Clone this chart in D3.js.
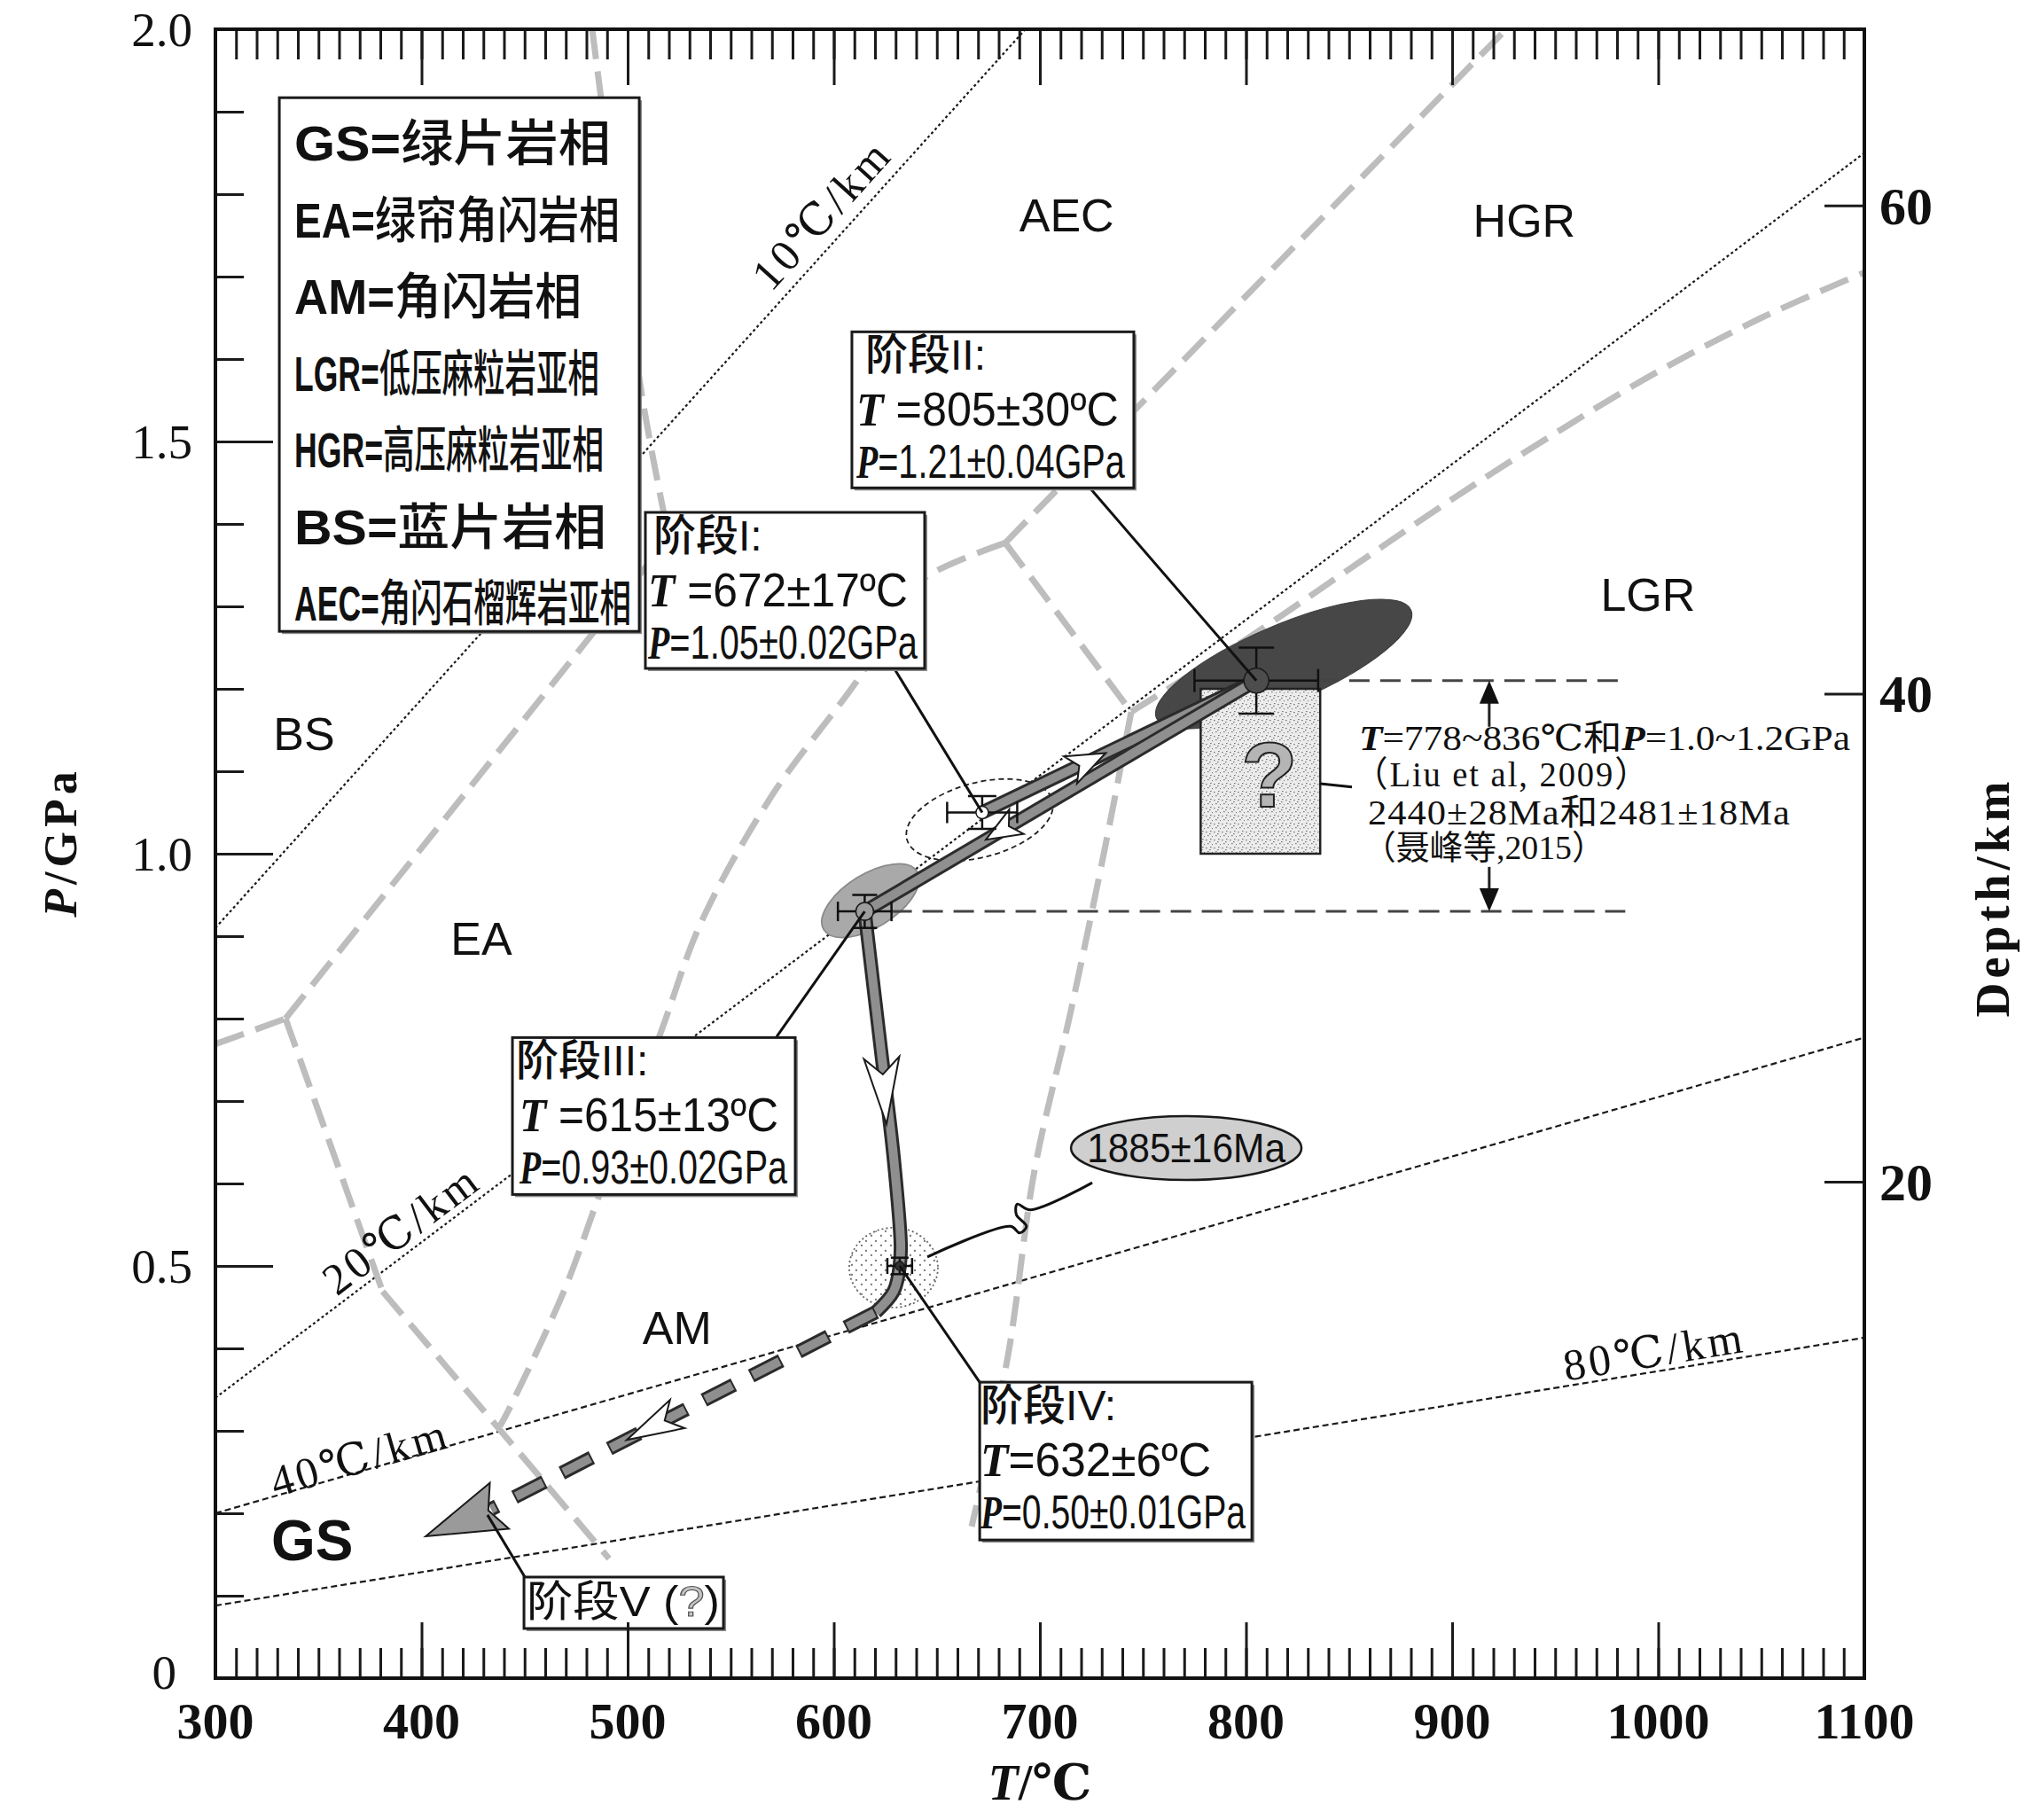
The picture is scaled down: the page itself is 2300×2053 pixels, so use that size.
<!DOCTYPE html>
<html>
<head>
<meta charset="utf-8">
<title>P-T path</title>
<script src="https://cdn.jsdelivr.net/npm/d3@7/dist/d3.min.js"></script>
<style>
  body { margin: 0; background: #fff; }
  svg { display: block; }
  .sans { font-family: "Liberation Sans", Arial, "Noto Sans CJK SC", sans-serif; }
  .serif { font-family: "Liberation Serif", "DejaVu Serif", "Noto Sans CJK SC", serif; }
</style>
</head>
<body>
<svg id="chart"></svg>
<script>
// ---------- data ----------
const tMajor = d3.range(300, 1101, 100);
const tMinor = d3.range(300, 1101, 10);
const pLabels = [0, 0.5, 1.0, 1.5, 2.0];
const pMinor = d3.range(0, 2.01, 0.1);
const depthLabels = [20, 40, 60];

// geotherms (T, P end points)
const geoNames = ['10℃/km', '20℃/km', '40℃/km', '80℃/km'];
const geoEnds = [
  [[300, 0.91], [693, 2.0]],
  [[300, 0.34], [1100, 1.85]],
  [[300, 0.20], [1100, 0.777]],
  [[300, 0.088], [1100, 0.413]]
];
const geoLabelAt = [[594, 1.776], [390, 0.545], [370, 0.268], [998, 0.397]];

// metamorphic facies boundaries (T, P)
const faciesBoundaries = [
  [[300, 0.769], [334, 0.80]],
  [[334, 0.80], [520, 1.383]],
  [[482.8, 2.0], [506.9, 1.556], [520, 1.383]],
  [[334, 0.80], [381.1, 0.469]],
  [[381.1, 0.469], [491, 0.145]],
  [[683.2, 1.377], [643.7, 1.334], [629.9, 1.294], [614.8, 1.223], [570.1, 1.071], [535.7, 0.917],
   [515.9, 0.782], [486.7, 0.589], [469, 0.469], [442.4, 0.326], [438.1, 0.306]],
  [[683.2, 1.377], [926.2, 2.0]],
  [[683.2, 1.377], [744.3, 1.172]],
  [[744.3, 1.172], [731.8, 1.010], [715, 0.809], [697.4, 0.616], [684.5, 0.391], [666.9, 0.184]],
  [[744.3, 1.172], [800, 1.26], [850, 1.345], [900, 1.43], [950, 1.51], [1000, 1.585], [1050, 1.65], [1100, 1.705]]
];
const faciesNames = ['AEC', 'HGR', 'LGR', 'BS', 'EA', 'AM', 'GS'];
const faciesLabelAt = [[713, 1.775], [935, 1.769], [995, 1.315], [343, 1.146], [429, 0.898], [524, 0.426], [347, 0.168]];

const legendAbbr = ['GS', 'EA', 'AM', 'LGR', 'HGR', 'BS', 'AEC'];
const legendName = ['绿片岩相', '绿帘角闪岩相', '角闪岩相', '低压麻粒岩亚相', '高压麻粒岩亚相', '蓝片岩相', '角闪石榴辉岩亚相'];

// P-T estimates of the four stages
const stageNames = ['阶段I', '阶段II', '阶段III', '阶段IV'];
const stageT = [672, 805, 615, 632];
const stageTErr = [17, 30, 13, 6];
const stageP = [1.05, 1.21, 0.93, 0.50];
const stagePErr = [0.02, 0.04, 0.02, 0.01];
const fieldCenter = [[670.8, 1.041], [818.3, 1.230], [617.8, 0.943], [629, 0.498]];

// P-T path
const pathIII_IV = [[615, 0.93], [623, 0.76], [629, 0.633], [632.5, 0.524], [632, 0.50]];
const pathIV_bend = [[632, 0.50], [629, 0.469], [620.4, 0.444]];
const pathIV_V = [[620.4, 0.444], [433.8, 0.205]];
const arrowTips = [[731.9, 1.122], [673.8, 1.017], [625.6, 0.672], [499.6, 0.289]];
const arrowFrom = [[672, 1.05], [805, 1.21], [623, 0.76], [620.4, 0.444]];
const stageVTip = [402, 0.172];

// earlier estimates
const prevT = [778, 836];
const prevP = [1.0, 1.2];
const zirconAge = '1885±16Ma';
const zirconAt = [771, 0.643];
const zirconLeader = [[725.4, 0.601], [695.3, 0.568], [689.0, 0.575], [688.6, 0.562], [693.5, 0.548],
                      [690.2, 0.540], [685.8, 0.548], [645.4, 0.511]];

// ---------- scales ----------
const width = 2300, height = 2053;
const x = d3.scaleLinear().domain([300, 1100]).range([243, 2103]);
const y = d3.scaleLinear().domain([0, 2]).range([1893, 33]);
const depthToP = d => 0.0102 + 0.0296 * d;
const yDepth = d3.scaleLinear().domain([0, 60]).range([y(depthToP(0)), y(depthToP(60))]);

const svg = d3.select('#chart').attr('width', width).attr('height', height);
svg.append('rect').attr('width', width).attr('height', height).attr('fill', '#fff');

// squeeze a text to a given width by scaling it horizontally
function fit(sel, x0, y0, target) {
  sel.attr('x', 0).attr('y', 0);
  const w = sel.node().getComputedTextLength();
  sel.attr('transform', `translate(${x0},${y0}) scale(${(target / w).toFixed(4)},1)`);
  return sel;
}

const defs = svg.append('defs');
defs.append('clipPath').attr('id', 'plot-clip').append('rect')
  .attr('x', x(300)).attr('y', y(2)).attr('width', x(1100) - x(300)).attr('height', y(0) - y(2));

const stip = defs.append('pattern').attr('id', 'stipple').attr('patternUnits', 'userSpaceOnUse')
  .attr('width', 9).attr('height', 9);
stip.append('rect').attr('width', 9).attr('height', 9).attr('fill', '#ececec');
[[1, 2], [6, 1], [3, 6], [8, 7], [5, 4]].forEach(p =>
  stip.append('rect').attr('x', p[0]).attr('y', p[1]).attr('width', 1.6).attr('height', 1.2).attr('fill', '#7a7a7a'));

const dots = defs.append('pattern').attr('id', 'dots').attr('patternUnits', 'userSpaceOnUse')
  .attr('width', 11).attr('height', 11);
[[2, 3], [8, 8]].forEach(p => dots.append('circle').attr('cx', p[0]).attr('cy', p[1]).attr('r', 1.1).attr('fill', '#555'));

const line = d3.line().x(d => x(d[0])).y(d => y(d[1]));
const smooth = d3.line().x(d => x(d[0])).y(d => y(d[1])).curve(d3.curveCatmullRom.alpha(0.5));

const plot = svg.append('g').attr('clip-path', 'url(#plot-clip)');

// geotherms
const geoDash = ['3,3', '3,3', '7,4', '7,4'];
plot.selectAll('path.geo').data(geoEnds).join('path').attr('class', 'geo')
  .attr('d', line).attr('fill', 'none').attr('stroke', '#1a1a1a').attr('stroke-width', 2.2)
  .attr('stroke-dasharray', (d, i) => geoDash[i]);

// facies boundaries
plot.selectAll('path.facies').data(faciesBoundaries).join('path').attr('class', 'facies')
  .attr('d', smooth).attr('fill', 'none').attr('stroke', '#bdbdbd').attr('stroke-width', 7)
  .attr('stroke-dasharray', '34,14');

// uncertainty fields: I dashed, II dark, III grey, IV dotted
const fieldShape = [[85, 42, -15], [156, 44, -23], [62, 30, -32], [50, 45, 0]];
const fieldFill = ['none', '#474747', '#a9a9a9', 'url(#dots)'];
const fieldStroke = ['#222', '#3a3a3a', '#8a8a8a', '#666'];
const fieldDash = ['6,4', null, null, '2,3'];
fieldCenter.forEach((c, i) => {
  plot.append('ellipse')
    .attr('transform', `translate(${x(c[0])},${y(c[1])}) rotate(${fieldShape[i][2]})`)
    .attr('rx', fieldShape[i][0]).attr('ry', fieldShape[i][1])
    .attr('fill', fieldFill[i]).attr('stroke', fieldStroke[i]).attr('stroke-width', i === 1 ? 1 : 1.8)
    .attr('stroke-dasharray', fieldDash[i]);
});

// previous estimate box
plot.append('rect').attr('x', x(prevT[0])).attr('y', y(prevP[1]))
  .attr('width', x(prevT[1]) - x(prevT[0])).attr('height', y(prevP[0]) - y(prevP[1]))
  .attr('fill', 'url(#stipple)').attr('stroke', '#222').attr('stroke-width', 2.5);
plot.append('text').attr('class', 'sans').attr('x', x((prevT[0] + prevT[1]) / 2) + 10).attr('y', y(1.1) + 40)
  .attr('text-anchor', 'middle').attr('font-size', 104).attr('font-weight', 'bold')
  .attr('fill', '#b5b5b5').attr('stroke', '#222').attr('stroke-width', 2).text('?');

// pressure bracket lines
const bracketEndT = 984, bracketT = 918;
[[1, stageP[1]], [2, stageP[2]]].forEach(([i, p]) => {
  plot.append('line').attr('x1', x(stageT[i] + stageTErr[i])).attr('x2', x(bracketEndT))
    .attr('y1', y(p)).attr('y2', y(p)).attr('stroke', '#444').attr('stroke-width', 3)
    .attr('stroke-dasharray', '23,12');
});
const bracketGap = [0.984, 1.154];
plot.append('line').attr('x1', x(bracketT)).attr('x2', x(bracketT))
  .attr('y1', y(stageP[1]) + 24).attr('y2', y(bracketGap[1])).attr('stroke', '#222').attr('stroke-width', 3);
plot.append('line').attr('x1', x(bracketT)).attr('x2', x(bracketT))
  .attr('y1', y(bracketGap[0])).attr('y2', y(stageP[2]) - 24).attr('stroke', '#222').attr('stroke-width', 3);
plot.append('path').attr('d', `M${x(bracketT)},${y(stageP[1])} l-11,26 l22,0 Z`).attr('fill', '#111');
plot.append('path').attr('d', `M${x(bracketT)},${y(stageP[2])} l-11,-26 l22,0 Z`).attr('fill', '#111');

// bands of the P-T path
function band(pts, gen, dashed) {
  plot.append('path').attr('d', gen(pts)).attr('fill', 'none').attr('stroke', '#2b2b2b')
    .attr('stroke-width', 16).attr('stroke-dasharray', dashed ? '38,22' : null);
  plot.append('path').attr('d', gen(pts)).attr('fill', 'none').attr('stroke', '#8f8f8f')
    .attr('stroke-width', 10).attr('stroke-dasharray', dashed ? '34,26' : null)
    .attr('stroke-dashoffset', dashed ? -2 : null);
}
band([[stageT[0], stageP[0]], [stageT[1], stageP[1]]], line, false);
band([[stageT[1], stageP[1]], [stageT[2], stageP[2]]], line, false);
band(pathIII_IV, smooth, false);
band(pathIV_bend, smooth, false);
band(pathIV_V, line, true);

function arrowHead(tip, from, len, half, notch, fill) {
  const tx = x(tip[0]), ty = y(tip[1]);
  const a = Math.atan2(ty - y(from[1]), tx - x(from[0]));
  const ux = Math.cos(a), uy = Math.sin(a), px = -uy, py = ux;
  const bx = tx - ux * len, by = ty - uy * len;
  const nx = tx - ux * len * (1 - notch), ny = ty - uy * len * (1 - notch);
  const pts = [[tx, ty], [bx + px * half, by + py * half], [nx, ny], [bx - px * half, by - py * half]];
  plot.append('polygon').attr('points', pts.map(p => p.join(',')).join(' '))
    .attr('fill', fill).attr('stroke', '#1a1a1a').attr('stroke-width', 2);
}
const arrowSize = [[44, 17], [40, 16], [75, 20], [64, 18]];
arrowTips.forEach((t, i) => arrowHead(t, arrowFrom[i], arrowSize[i][0], arrowSize[i][1], 0.25, '#fff'));
arrowHead(stageVTip, pathIV_V[1], 90, 28, 0.15, '#9a9a9a');

// error crosshairs
const capT = [12, 13, 11, 9], capP = [16, 20, 14, 10];
stageT.forEach((t, i) => {
  const g = plot.append('g').attr('stroke', '#111').attr('stroke-width', 2.5);
  const x0 = x(t - stageTErr[i]), x1 = x(t + stageTErr[i]), yc = y(stageP[i]);
  const y0 = y(stageP[i] - stagePErr[i]), y1 = y(stageP[i] + stagePErr[i]), xc = x(t);
  g.append('line').attr('x1', x0).attr('x2', x1).attr('y1', yc).attr('y2', yc);
  g.append('line').attr('x1', x0).attr('x2', x0).attr('y1', yc - capT[i]).attr('y2', yc + capT[i]);
  g.append('line').attr('x1', x1).attr('x2', x1).attr('y1', yc - capT[i]).attr('y2', yc + capT[i]);
  g.append('line').attr('x1', xc).attr('x2', xc).attr('y1', y0).attr('y2', y1);
  g.append('line').attr('x1', xc - capP[i]).attr('x2', xc + capP[i]).attr('y1', y0).attr('y2', y0);
  g.append('line').attr('x1', xc - capP[i]).attr('x2', xc + capP[i]).attr('y1', y1).attr('y2', y1);
});
const markR = [7, 14, 10, 5], markFill = ['#fff', '#4d4d4d', '#9d9d9d', '#333'];
stageT.forEach((t, i) => {
  plot.append('circle').attr('cx', x(t)).attr('cy', y(stageP[i])).attr('r', markR[i])
    .attr('fill', markFill[i]).attr('stroke', '#1a1a1a').attr('stroke-width', 1.5);
});

// zircon age ellipse and its leader
plot.append('path').attr('d', smooth(zirconLeader)).attr('fill', 'none').attr('stroke', '#111').attr('stroke-width', 3);
plot.append('ellipse').attr('cx', x(zirconAt[0])).attr('cy', y(zirconAt[1])).attr('rx', 130).attr('ry', 36)
  .attr('fill', '#cfcfcf').attr('stroke', '#1a1a1a').attr('stroke-width', 2.5);
fit(plot.append('text').attr('class', 'sans').attr('text-anchor', 'middle').attr('font-size', 46)
  .attr('fill', '#111').text(zirconAge), x(zirconAt[0]), y(zirconAt[1]) + 16, 224);

// leader from ? box to the text block
plot.append('line').attr('x1', x(prevT[1])).attr('x2', x(851.4)).attr('y1', y(1.085)).attr('y2', y(1.081))
  .attr('stroke', '#111').attr('stroke-width', 3);

// ---------- annotation boxes ----------
const ann = svg.append('g');
function box(x0, y0, w, h) {
  ann.append('rect').attr('x', x0 + 3).attr('y', y0 + 3).attr('width', w).attr('height', h).attr('fill', '#8c8c8c');
  ann.append('rect').attr('x', x0).attr('y', y0).attr('width', w).attr('height', h)
    .attr('fill', '#fff').attr('stroke', '#1a1a1a').attr('stroke-width', 3);
}

// stage leaders
const leaderFrom = [[629.5, 1.224], [724.1, 1.444], [572.3, 0.778], [671.6, 0.356]];
leaderFrom.forEach((p, i) => {
  ann.append('line').attr('x1', x(p[0])).attr('y1', y(p[1])).attr('x2', x(stageT[i])).attr('y2', y(stageP[i]))
    .attr('stroke', '#111').attr('stroke-width', 3);
});
ann.append('line').attr('x1', x(451)).attr('y1', y(0.119)).attr('x2', x(432)).attr('y2', y(0.198))
  .attr('stroke', '#111').attr('stroke-width', 3);

// legend
const lgX = x(331), lgY = y(1.917);
box(lgX, lgY, 406, 602);
const legendLen = [357, 367, 324, 344, 349, 352, 380];
legendAbbr.forEach((a, i) => {
  const t = ann.append('text').attr('class', 'sans').attr('font-size', 56).attr('font-weight', 500).attr('fill', '#111');
  t.append('tspan').attr('font-weight', 'bold').text(a + '=');
  t.append('tspan').text(legendName[i]);
  fit(t, lgX + 17, lgY + 71 + i * 86.5, legendLen[i]);
});

// stage boxes
const boxAt = [[508.6, 1.414], [608.8, 1.633], [444.1, 0.777], [670.8, 0.359]];
const boxSize = [[315, 176], [318, 176], [319, 177], [307, 178]];
const row1Pad = [9, 15, 4, 1], rowPad = [3, 5, 8, 1];
const row2Len = [293, 296, 292, 260], row3Len = [304, 303, 302, 299];
const tSep = [' ', ' ', ' ', ''];
stageNames.forEach((name, i) => {
  const bx = x(boxAt[i][0]), by = y(boxAt[i][1]);
  box(bx, by, boxSize[i][0], boxSize[i][1]);
  ann.append('text').attr('class', 'sans').attr('x', bx + row1Pad[i]).attr('y', by + 43)
    .attr('font-size', 48).attr('font-weight', 500).attr('fill', '#111').text(name + ':');
  const r2 = ann.append('text').attr('class', 'sans').attr('font-size', 53).attr('fill', '#111');
  r2.append('tspan').attr('class', 'serif').attr('font-style', 'italic').attr('font-weight', 'bold').text('T');
  r2.append('tspan').text(`${tSep[i]}=${stageT[i]}±${stageTErr[i]}ºC`);
  fit(r2, bx + rowPad[i], by + 106, row2Len[i]);
  const r3 = ann.append('text').attr('class', 'sans').attr('font-size', 53).attr('fill', '#111');
  r3.append('tspan').attr('class', 'serif').attr('font-style', 'italic').attr('font-weight', 'bold').text('P');
  r3.append('tspan').text(`=${stageP[i].toFixed(2)}±${stagePErr[i].toFixed(2)}GPa`);
  fit(r3, bx + rowPad[i], by + 165, row3Len[i]);
});

// stage V box
const vX = x(449.7), vY = y(0.1226);
box(vX, vY, 225, 58);
const vt = ann.append('text').attr('class', 'sans').attr('font-size', 48).attr('fill', '#111');
vt.append('tspan').text('阶段V (');
vt.append('tspan').attr('fill', '#c4c4c4').attr('stroke', '#555').attr('stroke-width', 1.2).text('?');
vt.append('tspan').text(')');
fit(vt, vX + 3, vY + 44, 218);

// text block of earlier results
const tbX = x(854.8), tbY = y(1.126);
const tb1 = ann.append('text').attr('class', 'serif').attr('font-size', 40).attr('fill', '#111');
tb1.append('tspan').attr('font-style', 'italic').attr('font-weight', 'bold').text('T');
tb1.append('tspan').text(`=${prevT[0]}~${prevT[1]}℃和`);
tb1.append('tspan').attr('font-style', 'italic').attr('font-weight', 'bold').text('P');
tb1.append('tspan').text(`=${prevP[0].toFixed(1)}~${prevP[1].toFixed(1)}GPa`);
fit(tb1, tbX, tbY, 554);
fit(ann.append('text').attr('class', 'serif').attr('font-size', 40).attr('fill', '#111')
  .attr('letter-spacing', 2).text('（Liu et al, 2009）'), tbX - 6, tbY + 41, 335);
fit(ann.append('text').attr('class', 'serif').attr('font-size', 40).attr('fill', '#111')
  .attr('letter-spacing', 1).text('2440±28Ma和2481±18Ma'), tbX + 10, tbY + 84, 477);
fit(ann.append('text').attr('class', 'serif').attr('font-size', 38).attr('fill', '#111')
  .text('（聂峰等,2015）'), tbX + 4, tbY + 123, 274);

// facies labels
faciesNames.forEach((n, i) => {
  ann.append('text').attr('class', 'sans').attr('x', x(faciesLabelAt[i][0])).attr('y', y(faciesLabelAt[i][1]))
    .attr('dy', '0.36em').attr('text-anchor', 'middle')
    .attr('font-size', n === 'GS' ? 64 : 52).attr('font-weight', n === 'GS' ? 'bold' : 'normal')
    .attr('fill', '#111').text(n);
});

// geotherm labels
geoNames.forEach((n, i) => {
  const [a, b] = geoEnds[i];
  const ang = Math.atan2(y(b[1]) - y(a[1]), x(b[0]) - x(a[0])) * 180 / Math.PI;
  ann.append('text').attr('class', 'serif')
    .attr('transform', `translate(${x(geoLabelAt[i][0])},${y(geoLabelAt[i][1])}) rotate(${ang})`)
    .attr('text-anchor', 'middle').attr('dy', '0.35em').attr('font-size', 50)
    .attr('letter-spacing', 4).attr('fill', '#111').text(n);
});

// ---------- axes ----------
const axes = svg.append('g');
function styleAxis(g) {
  g.select('.domain').remove();
  g.selectAll('text').remove();
  g.selectAll('line').attr('stroke', '#1a1a1a').attr('stroke-width', 3);
}
axes.append('g').attr('transform', `translate(0,${y(0)})`)
  .call(d3.axisTop(x).tickValues(tMinor).tickSize(34)).call(styleAxis);
axes.append('g').attr('transform', `translate(0,${y(0)})`)
  .call(d3.axisTop(x).tickValues(tMajor).tickSize(63)).call(styleAxis);
axes.append('g').attr('transform', `translate(0,${y(2)})`)
  .call(d3.axisBottom(x).tickValues(tMinor).tickSize(34)).call(styleAxis);
axes.append('g').attr('transform', `translate(0,${y(2)})`)
  .call(d3.axisBottom(x).tickValues(tMajor).tickSize(63)).call(styleAxis);
axes.append('g').attr('transform', `translate(${x(300)},0)`)
  .call(d3.axisRight(y).tickValues(pMinor).tickSize(32)).call(styleAxis);
axes.append('g').attr('transform', `translate(${x(300)},0)`)
  .call(d3.axisRight(y).tickValues([0.5, 1.0, 1.5]).tickSize(65)).call(styleAxis);
axes.append('g').attr('transform', `translate(${x(1100)},0)`)
  .call(d3.axisLeft(yDepth).tickValues(depthLabels).tickSize(45)).call(styleAxis);

axes.append('rect').attr('x', x(300)).attr('y', y(2)).attr('width', x(1100) - x(300)).attr('height', y(0) - y(2))
  .attr('fill', 'none').attr('stroke', '#111').attr('stroke-width', 4);

axes.selectAll('text.xl').data(tMajor).join('text').attr('class', 'serif xl')
  .attr('x', d => x(d)).attr('y', y(0) + 68).attr('text-anchor', 'middle')
  .attr('font-size', 58).attr('font-weight', 'bold').attr('fill', '#111').text(d => d);
axes.selectAll('text.yl').data(pLabels).join('text').attr('class', 'serif yl')
  .attr('x', d => x(300) - (d === 0 ? 44 : 26)).attr('y', d => y(d) + (d === 0 ? 12 : 19)).attr('text-anchor', 'end')
  .attr('font-size', 55).attr('fill', '#111').text(d => d === 0 ? '0' : d.toFixed(1));
axes.selectAll('text.dl').data(depthLabels).join('text').attr('class', 'serif dl')
  .attr('x', x(1100) + 17).attr('y', d => yDepth(d) + 21)
  .attr('font-size', 60).attr('font-weight', 'bold').attr('fill', '#111').text(d => d);

const xt = axes.append('text').attr('class', 'serif').attr('x', x(700)).attr('y', 2030)
  .attr('text-anchor', 'middle').attr('font-size', 56).attr('font-weight', 'bold').attr('fill', '#111');
xt.append('tspan').attr('font-style', 'italic').text('T');
xt.append('tspan').text('/℃');

const yt = axes.append('text').attr('class', 'serif').attr('transform', `translate(86,950) rotate(-90)`)
  .attr('text-anchor', 'middle').attr('font-size', 52).attr('font-weight', 'bold')
  .attr('letter-spacing', 5).attr('fill', '#111');
yt.append('tspan').attr('font-style', 'italic').text('P');
yt.append('tspan').text('/GPa');

axes.append('text').attr('class', 'serif').attr('transform', `translate(2266,1012) rotate(-90)`)
  .attr('text-anchor', 'middle').attr('font-size', 54).attr('font-weight', 'bold')
  .attr('letter-spacing', 5).attr('fill', '#111').text('Depth/km');
</script>
</body>
</html>
